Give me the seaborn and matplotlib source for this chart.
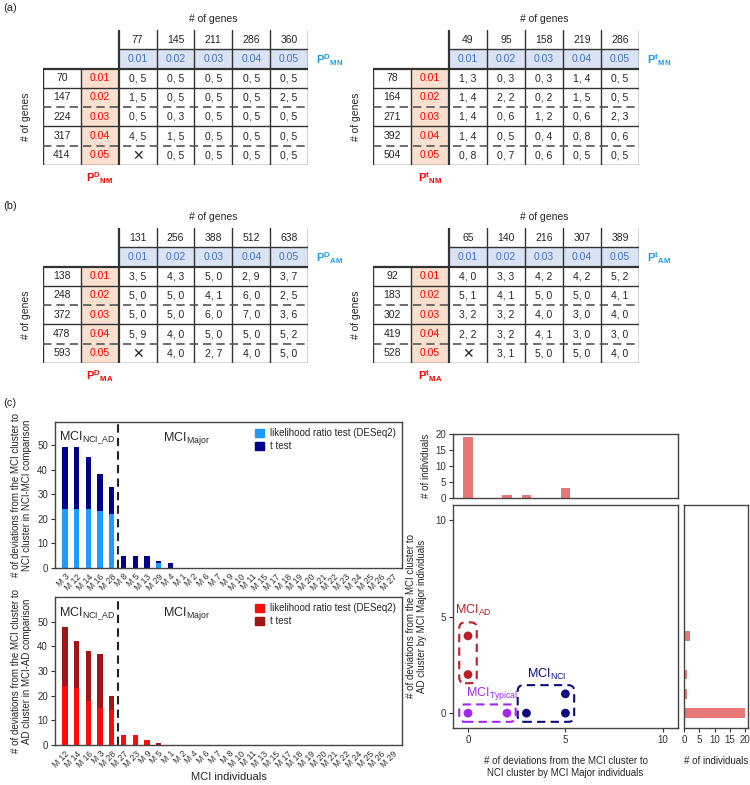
import numpy as np
import pandas as pd
import seaborn as sns
import matplotlib.pyplot as plt
from matplotlib.patches import Rectangle, FancyBboxPatch, Patch

sns.set_theme(style="ticks")
plt.rcParams["font.family"] = ["Liberation Sans", "DejaVu Sans"]
plt.rcParams["mathtext.fontset"] = "custom"
plt.rcParams["mathtext.rm"] = "Liberation Sans"
plt.rcParams["mathtext.it"] = "Liberation Sans"
plt.rcParams["mathtext.bf"] = "Liberation Sans:bold"

# ---- (a)/(b) tables ----
p_values = ["0.01", "0.02", "0.03", "0.04", "0.05"]

cols_a1 = [77, 145, 211, 286, 360]
rows_a1 = [70, 147, 224, 317, 414]
cells_a1 = [["0, 5", "0, 5", "0, 5", "0, 5", "0, 5"],
            ["1, 5", "0, 5", "0, 5", "0, 5", "2, 5"],
            ["0, 5", "0, 3", "0, 5", "0, 5", "0, 5"],
            ["4, 5", "1, 5", "0, 5", "0, 5", "0, 5"],
            [None, "0, 5", "0, 5", "0, 5", "0, 5"]]

cols_a2 = [49, 95, 158, 219, 286]
rows_a2 = [78, 164, 271, 392, 504]
cells_a2 = [["1, 3", "0, 3", "0, 3", "1, 4", "0, 5"],
            ["1, 4", "2, 2", "0, 2", "1, 5", "0, 5"],
            ["1, 4", "0, 6", "1, 2", "0, 6", "2, 3"],
            ["1, 4", "0, 5", "0, 4", "0, 8", "0, 6"],
            ["0, 8", "0, 7", "0, 6", "0, 5", "0, 5"]]

cols_b1 = [131, 256, 388, 512, 638]
rows_b1 = [138, 248, 372, 478, 593]
cells_b1 = [["3, 5", "4, 3", "5, 0", "2, 9", "3, 7"],
            ["5, 0", "5, 0", "4, 1", "6, 0", "2, 5"],
            ["5, 0", "5, 0", "6, 0", "7, 0", "3, 6"],
            ["5, 9", "4, 0", "5, 0", "5, 0", "5, 2"],
            [None, "4, 0", "2, 7", "4, 0", "5, 0"]]

cols_b2 = [65, 140, 216, 307, 389]
rows_b2 = [92, 183, 302, 419, 528]
cells_b2 = [["4, 0", "3, 3", "4, 2", "4, 2", "5, 2"],
            ["5, 1", "4, 1", "5, 0", "5, 0", "4, 1"],
            ["3, 2", "3, 2", "4, 0", "3, 0", "4, 0"],
            ["2, 2", "3, 2", "4, 1", "3, 0", "3, 0"],
            [None, "3, 1", "5, 0", "5, 0", "4, 0"]]

# ---- (c) bar charts ----
nm_names = ["M 3", "M 12", "M 14", "M 16", "M 28", "M 8", "M 5", "M 13", "M 29", "M 4",
            "M 1", "M 2", "M 6", "M 7", "M 9", "M 10", "M 11", "M 15", "M 17", "M 18",
            "M 19", "M 20", "M 21", "M 22", "M 23", "M 24", "M 25", "M 26", "M 27"]
nm_lrt = [24, 24, 24, 23, 22, 0, 0, 0, 2, 0] + [0] * 19
nm_ttest = [25, 25, 21, 15, 11, 5, 5, 5, 1, 2] + [0] * 19

ma_names = ["M 12", "M 14", "M 16", "M 3", "M 28", "M 27", "M 23", "M 9", "M 5", "M 1",
            "M 2", "M 4", "M 6", "M 7", "M 8", "M 10", "M 11", "M 13", "M 15", "M 17",
            "M 18", "M 19", "M 20", "M 21", "M 22", "M 24", "M 25", "M 26", "M 29"]
ma_lrt = [24, 23, 18, 15, 14, 4, 4, 2, 0, 0] + [0] * 19
ma_ttest = [24, 19, 20, 22, 6, 0, 0, 0, 1, 0] + [0] * 19

# ---- (c) scatter + marginals ----
dev_nci = [0, 0, 0, 2, 3, 5, 5]
dev_ad = [4, 2, 0, 0, 0, 0, 1]
groups = ["AD", "AD", "Typical", "Typical", "NCI", "NCI", "NCI"]
hist_x = [0, 2, 3, 5]
hist_x_counts = [19, 1, 1, 3]
hist_y = [0, 1, 2, 4]
hist_y_counts = [20, 1, 1, 2]

W, H = 750, 785
fig = plt.figure(figsize=(W / 100, H / 100), dpi=100)


def px_axes(l, t, r, b):
    return fig.add_axes([l / W, 1 - b / H, (r - l) / W, (b - t) / H])


line_c = "#333333"
fs_tab = 7.5


def draw_table(l, t, r, b, cols, rows, cells, top_lab, side_lab):
    ax = px_axes(l, t, r, b)
    ax.set_xlim(0, 7)
    ax.set_ylim(7, 0)
    ax.axis("off")
    ax.add_patch(Rectangle((2, 1), 5, 1, facecolor="#dae3f3", edgecolor="none"))
    ax.add_patch(Rectangle((1, 2), 1, 5, facecolor="#fbe0cf", edgecolor="none"))
    # vertical lines
    for x in range(2, 8):
        ax.plot([x, x], [0, 7], color=line_c, lw=1.6 if x == 2 else 1.0)
    for x in (0, 1):
        ax.plot([x, x], [2, 7], color=line_c, lw=1.0)
    # horizontal lines
    ax.plot([2, 7], [1, 1], color=line_c, lw=1.0)
    for y in range(2, 8):
        if y in (4, 6):
            ax.plot([0, 7], [y, y], color="#555555", lw=1.2, ls=(0, (5, 3)))
        else:
            ax.plot([0, 7], [y, y], color=line_c, lw=1.6 if y == 2 else 1.0)
    for i, c in enumerate(cols):
        ax.text(2.5 + i, 0.5, str(c), ha="center", va="center", fontsize=fs_tab)
        ax.text(2.5 + i, 1.5, p_values[i], ha="center", va="center", fontsize=fs_tab,
                color="#4472c4")
    for j, rv in enumerate(rows):
        ax.text(0.5, 2.5 + j, str(rv), ha="center", va="center", fontsize=fs_tab)
        ax.text(1.5, 2.5 + j, p_values[j], ha="center", va="center", fontsize=fs_tab,
                color="red")
        for i, v in enumerate(cells[j]):
            if v is None:
                ax.text(2.5 + i, 2.55 + j, "\u2715", ha="center", va="center", fontsize=10,
                        family=["DejaVu Sans"])
            else:
                ax.text(2.5 + i, 2.5 + j, v, ha="center", va="center", fontsize=fs_tab)
    ax.text(4.5, -0.55, "# of genes", ha="center", va="center", fontsize=fs_tab)
    ax.text(-0.45, 4.5, "# of genes", ha="center", va="center", fontsize=fs_tab,
            rotation=90)
    ax.text(7.2, 1.55, top_lab, ha="left", va="center", fontsize=8, color="#1a9cf0",
            fontweight="bold")
    ax.text(1.5, 7.7, side_lab, ha="center", va="center", fontsize=8, color="red",
            fontweight="bold")
    return ax


draw_table(43, 30, 308, 165, cols_a1, rows_a1, cells_a1,
           r"$\mathbf{P^{D}{}_{MN}}$", r"$\mathbf{P^{D}{}_{NM}}$")
draw_table(373, 30, 639, 165, cols_a2, rows_a2, cells_a2,
           r"$\mathbf{P^{t}{}_{MN}}$", r"$\mathbf{P^{t}{}_{NM}}$")
draw_table(43, 228, 308, 363, cols_b1, rows_b1, cells_b1,
           r"$\mathbf{P^{D}{}_{AM}}$", r"$\mathbf{P^{D}{}_{MA}}$")
draw_table(373, 228, 639, 363, cols_b2, rows_b2, cells_b2,
           r"$\mathbf{P^{t}{}_{AM}}$", r"$\mathbf{P^{t}{}_{MA}}$")

fig.text(3 / W, 1 - 8 / H, "(a)", fontsize=8, va="center")
fig.text(3 / W, 1 - 206 / H, "(b)", fontsize=8, va="center")
fig.text(3 / W, 1 - 403 / H, "(c)", fontsize=8, va="center")


def style_axes(ax):
    for s in ax.spines.values():
        s.set_visible(True)
        s.set_color("#444444")
        s.set_linewidth(1.0)
    ax.tick_params(labelsize=7, length=3, width=0.8, colors="#333333", pad=2)


def bar_panel(l, t, r, b, names, lrt, ttest, c_lrt, c_t, ylabel, ytop, xlabel=None):
    ax = px_axes(l, t, r, b)
    df = pd.DataFrame({"ind": names, "lrt": lrt, "total": np.array(lrt) + np.array(ttest)})
    sns.barplot(data=df, x="ind", y="total", order=names, color=c_t, saturation=1,
                width=0.45, linewidth=0, ax=ax)
    sns.barplot(data=df, x="ind", y="lrt", order=names, color=c_lrt, saturation=1,
                width=0.45, linewidth=0, ax=ax)
    ax.set_xlim(-0.85, 28.8)
    ax.set_ylim(0, ytop)
    ax.set_yticks([0, 10, 20, 30, 40, 50])
    style_axes(ax)
    ax.tick_params(axis="x", labelsize=6.2, length=0, pad=3)
    for lab in ax.get_xticklabels():
        lab.set_rotation(45)
        lab.set_ha("right")
        lab.set_rotation_mode("anchor")
    ax.axvline(4.55, color="#222222", lw=1.5, ls=(0, (4, 2.5)))
    ax.text(1.9, ytop * 0.89, r"MCI$_{\mathrm{NCI\_AD}}$", ha="center", va="center",
            fontsize=9)
    ax.text(10.4, ytop * 0.89, r"MCI$_{\mathrm{Major}}$", ha="center", va="center",
            fontsize=9)
    ax.set_ylabel(ylabel, fontsize=7, labelpad=4, linespacing=1.1)
    ax.set_xlabel(xlabel if xlabel else "", fontsize=8, labelpad=2)
    ax.legend(handles=[Patch(color=c_lrt, label="likelihood ratio test (DESeq2)"),
                       Patch(color=c_t, label="t test")],
              loc="upper right", frameon=False, fontsize=7, handlelength=0.9,
              handleheight=0.9, handletextpad=0.6, labelspacing=0.3,
              borderaxespad=0.25)
    return ax


bar_panel(55, 422, 402, 568, nm_names, nm_lrt, nm_ttest, "#1e9bff", "#00008b",
          "# of deviations from the MCI cluster to\nNCI cluster in NCI-MCI comparison", 59.3)
bar_panel(55, 597, 402, 745, ma_names, ma_lrt, ma_ttest, "#ff0a0a", "#a31515",
          "# of deviations from the MCI cluster to\nAD cluster in MCI-AD comparison", 60,
          xlabel="MCI individuals")

# scatter with marginal histograms
group_colors = {"AD": "#b8202a", "Typical": "#a327f0", "NCI": "#0c0c80"}
group_labels = {"AD": r"MCI$_{\mathrm{AD}}$", "Typical": r"MCI$_{\mathrm{Typical}}$",
                "NCI": r"MCI$_{\mathrm{NCI}}$"}
label_pos = {"AD": (0.3, 5.3), "Typical": (1.25, 1.0), "NCI": (4.05, 2.0)}
lims = (-0.77, 10.78)
marg_c = "#e87878"

ax_j = px_axes(453, 505, 678, 728)
ax_top = px_axes(453, 434, 678, 498)
ax_right = px_axes(684, 505, 748, 728)

sc = pd.DataFrame({"x": dev_nci, "y": dev_ad, "g": groups})
sns.scatterplot(data=sc, x="x", y="y", hue="g", palette=group_colors, s=40,
                linewidth=0, legend=False, ax=ax_j, zorder=3)
pad = 0.45
for g, sub in sc.groupby("g"):
    x0, x1 = sub["x"].min() - pad, sub["x"].max() + pad
    y0, y1 = sub["y"].min() - pad, sub["y"].max() + pad
    if g == "AD":
        y1 += 0.25
    ax_j.add_patch(FancyBboxPatch((x0, y0), x1 - x0, y1 - y0,
                                  boxstyle="round,pad=0,rounding_size=0.3",
                                  fill=False, edgecolor=group_colors[g], lw=1.5,
                                  ls=(0, (4, 2.5))))
    ax_j.text(*label_pos[g], group_labels[g], color=group_colors[g], fontsize=9,
              ha="center", va="center")
ax_j.set_xlim(*lims)
ax_j.set_ylim(*lims)
ax_j.set_xticks([0, 5, 10])
ax_j.set_yticks([0, 5, 10])
style_axes(ax_j)
ax_j.set_xlabel("# of deviations from the MCI cluster to\nNCI cluster by MCI Major individuals",
                fontsize=7, labelpad=8, linespacing=1.2)
ax_j.set_ylabel("# of deviations from the MCI cluster to\nAD cluster by MCI Major individuals",
                fontsize=7, labelpad=6, linespacing=1.1)

sns.barplot(x=hist_x, y=hist_x_counts, native_scale=True, width=0.5, color=marg_c,
            saturation=1, linewidth=0, ax=ax_top)
ax_top.set_xlim(*lims)
ax_top.set_ylim(0, 20)
ax_top.set_yticks([0, 5, 10, 15, 20])
ax_top.set_xticks([])
style_axes(ax_top)
ax_top.set_ylabel("# of individuals", fontsize=7, labelpad=3)

sns.barplot(y=hist_y, x=hist_y_counts, orient="y", native_scale=True, width=0.5,
            color=marg_c, saturation=1, linewidth=0, ax=ax_right)
ax_right.set_ylim(*lims)
ax_right.set_xlim(0, 20.9)
ax_right.set_xticks([0, 5, 10, 15, 20])
ax_right.set_yticks([])
style_axes(ax_right)
ax_right.set_xlabel("# of individuals", fontsize=7, labelpad=8)
ax_right.set_ylabel("")

fig.savefig("out.png", dpi=100)
